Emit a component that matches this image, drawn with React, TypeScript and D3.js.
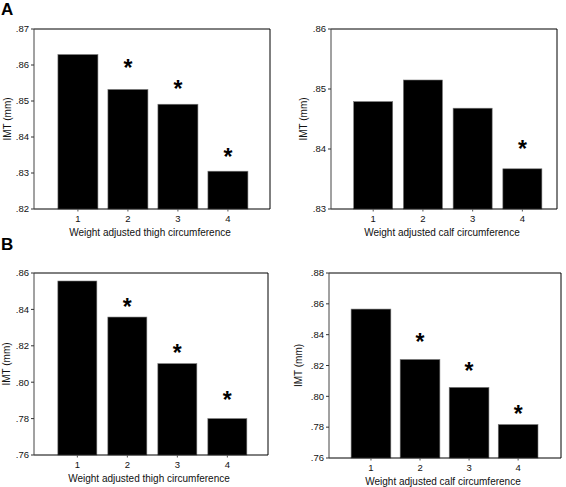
import React from "react";
import * as d3 from "d3";

const categories = ["1", "2", "3", "4"];

const thighA = [0.8629, 0.8532, 0.8491, 0.8305];
const calfA = [0.8479, 0.8515, 0.8468, 0.8367];
const thighB = [0.8556, 0.8358, 0.8102, 0.78];
const calfB = [0.8566, 0.8239, 0.8058, 0.7817];

const thighAStars: (number | null)[] = [null, 0.8605, 0.8546, 0.8359];
const calfAStars: (number | null)[] = [null, null, null, 0.8408];
const thighBStars: (number | null)[] = [null, 0.8442, 0.8188, 0.793];
const calfBStars: (number | null)[] = [null, 0.8387, 0.8195, 0.7916];

const ticksAThigh = [0.82, 0.83, 0.84, 0.85, 0.86, 0.87];
const ticksACalf = [0.83, 0.84, 0.85, 0.86];
const ticksBThigh = [0.76, 0.78, 0.8, 0.82, 0.84, 0.86];
const ticksBCalf = [0.76, 0.78, 0.8, 0.82, 0.84, 0.86, 0.88];

const xTitleThigh = "Weight adjusted thigh circumference";
const xTitleCalf = "Weight adjusted calf circumference";
const yTitle = "IMT (mm)";

const FONT = "'Liberation Sans', Arial, Helvetica, sans-serif";

const fmt = (v: number) => d3.format(".2f")(v).replace(/^0/, "");

type PanelProps = {
  values: number[];
  stars: (number | null)[];
  ticks: number[];
  xTitle: string;
  left: number;
  right: number;
  top: number;
  bottom: number;
  pi: number;
  po: number;
  align: number;
  yTitleX: number;
};

function Panel(p: PanelProps) {
  const x = d3
    .scaleBand<string>()
    .domain(categories)
    .range([p.left, p.right])
    .paddingInner(p.pi)
    .paddingOuter(p.po)
    .align(p.align);
  const y = d3
    .scaleLinear()
    .domain([p.ticks[0], p.ticks[p.ticks.length - 1]])
    .range([p.bottom, p.top]);
  const bw = x.bandwidth();
  const yMid = (p.top + p.bottom) / 2;
  return (
    <g>
      {p.values.map((v, i) => (
        <rect
          key={i}
          x={x(categories[i])}
          y={y(v)}
          width={bw}
          height={p.bottom - y(v)}
          fill="#000"
          stroke="#777"
          strokeWidth={0.6}
        />
      ))}
      {p.stars.map((s, i) =>
        s === null ? null : (
          <text
            key={"s" + i}
            x={(x(categories[i]) as number) + bw / 2}
            y={y(s) + 13}
            textAnchor="middle"
            fontSize={23}
            fontWeight="bold"
            fontFamily={FONT}
            fill="#000"
          >
            *
          </text>
        )
      )}
      <line x1={p.left} x2={p.right} y1={p.top} y2={p.top} stroke="#000" strokeWidth={1} />
      <line x1={p.right} x2={p.right} y1={p.top} y2={p.bottom} stroke="#000" strokeWidth={1} />
      <line x1={p.left} x2={p.right} y1={p.bottom} y2={p.bottom} stroke="#000" strokeWidth={1} />
      <line x1={p.left} x2={p.left} y1={p.top} y2={p.bottom} stroke="#444" strokeWidth={1} />
      {p.ticks.map((t) => (
        <g key={"t" + t}>
          <line x1={p.left - 3} x2={p.left} y1={y(t)} y2={y(t)} stroke="#333" strokeWidth={1} />
          <text
            x={p.left - 5}
            y={y(t)}
            dy="0.35em"
            textAnchor="end"
            fontSize={9.5}
            fontFamily={FONT}
            fill="#111"
          >
            {fmt(t)}
          </text>
        </g>
      ))}
      {categories.map((c) => {
        const cx = (x(c) as number) + bw / 2;
        return (
          <g key={"x" + c}>
            <line x1={cx} x2={cx} y1={p.bottom} y2={p.bottom + 2.5} stroke="#555" strokeWidth={1} />
            <text
              x={cx}
              y={p.bottom + 12.8}
              textAnchor="middle"
              fontSize={9.5}
              fontFamily={FONT}
              fill="#111"
            >
              {c}
            </text>
          </g>
        );
      })}
      <text
        x={(p.left + p.right) / 2 - 2}
        y={p.bottom + 27}
        textAnchor="middle"
        fontSize={10}
        fontFamily={FONT}
        fill="#111"
      >
        {p.xTitle}
      </text>
      <text
        transform={`translate(${p.yTitleX},${yMid}) rotate(-90)`}
        textAnchor="middle"
        dy="0.35em"
        fontSize={10}
        fontFamily={FONT}
        fill="#111"
      >
        {yTitle}
      </text>
    </g>
  );
}

export default function App() {
  return (
    <svg
      width={566}
      height={487}
      style={{ position: "absolute", left: 0, top: 0, background: "#fff" }}
    >
      <rect x={0} y={0} width={566} height={487} fill="#fff" />
      <text x={1} y={15} fontSize={17} fontWeight="bold" fontFamily={FONT} fill="#000">
        A
      </text>
      <text x={1} y={250} fontSize={17} fontWeight="bold" fontFamily={FONT} fill="#000">
        B
      </text>
      <Panel
        values={thighA}
        stars={thighAStars}
        ticks={ticksAThigh}
        xTitle={xTitleThigh}
        left={34}
        right={270}
        top={29}
        bottom={209}
        pi={0.2}
        po={0.46}
        align={0.52}
        yTitleX={7}
      />
      <Panel
        values={calfA}
        stars={calfAStars}
        ticks={ticksACalf}
        xTitle={xTitleCalf}
        left={331}
        right={557}
        top={29}
        bottom={209}
        pi={0.215}
        po={0.38}
        align={0.6}
        yTitleX={303}
      />
      <Panel
        values={thighB}
        stars={thighBStars}
        ticks={ticksBThigh}
        xTitle={xTitleThigh}
        left={34}
        right={268}
        top={273}
        bottom={455}
        pi={0.22}
        po={0.45}
        align={0.53}
        yTitleX={6}
      />
      <Panel
        values={calfB}
        stars={calfBStars}
        ticks={ticksBCalf}
        xTitle={xTitleCalf}
        left={329}
        right={561}
        top={273}
        bottom={458}
        pi={0.19}
        po={0.46}
        align={0.49}
        yTitleX={298}
      />
    </svg>
  );
}
